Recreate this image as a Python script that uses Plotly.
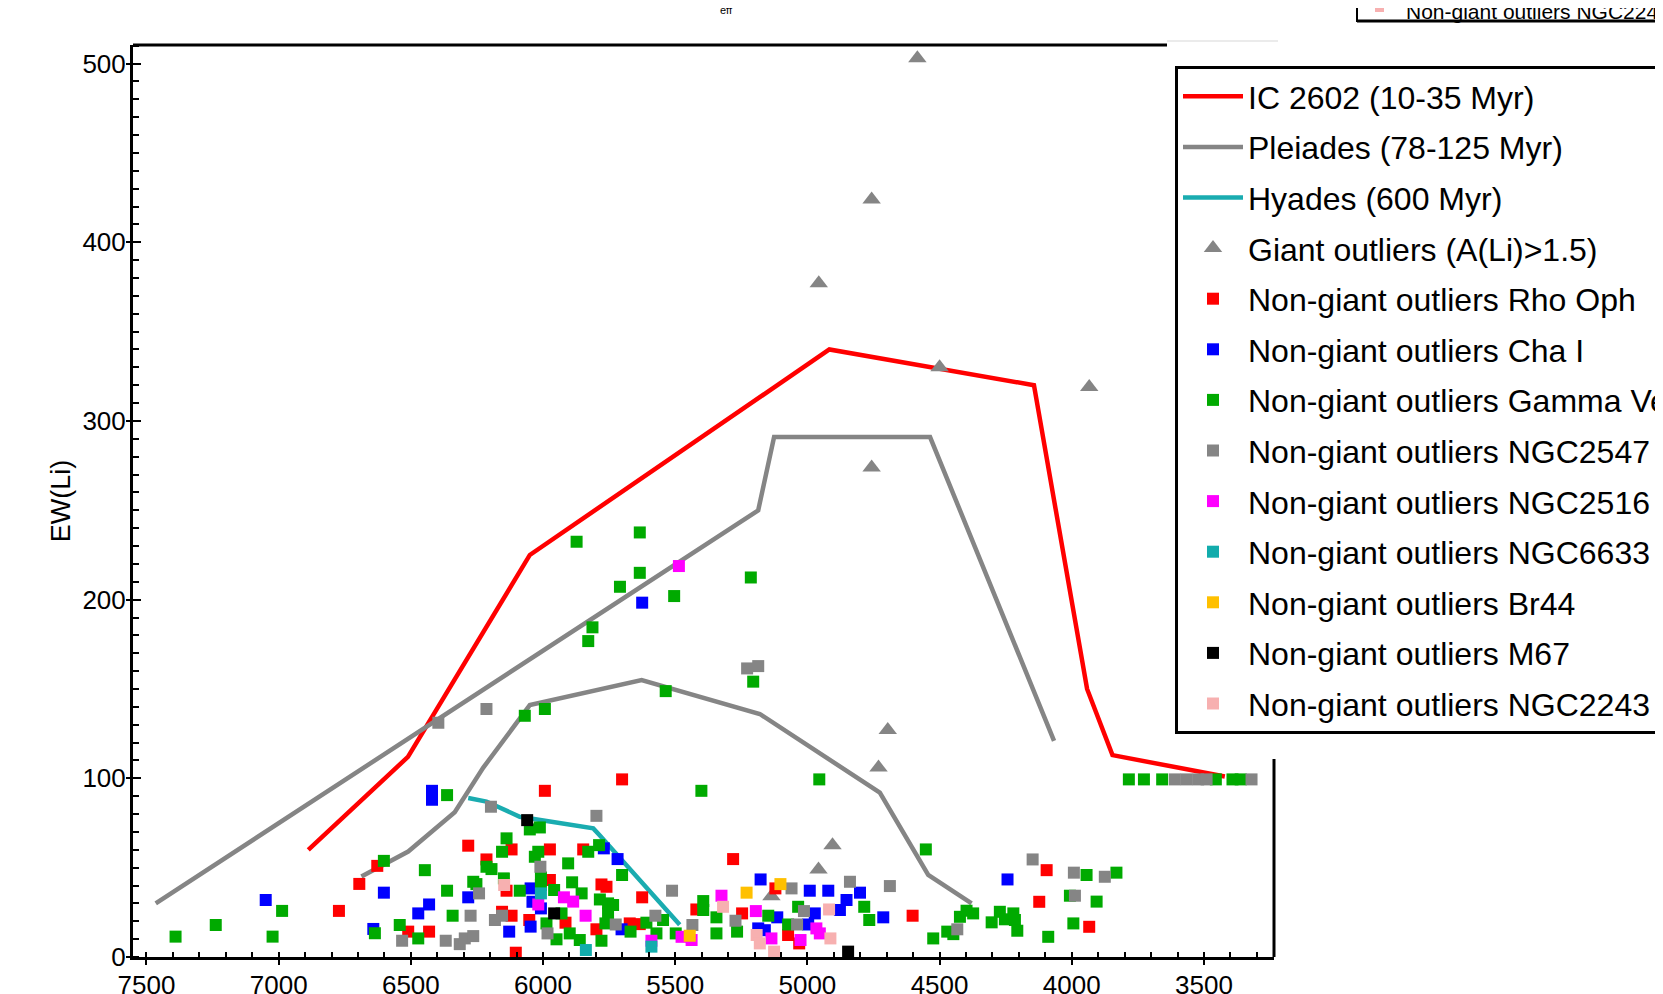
import plotly.graph_objects as go

# ---------------- data ----------------
ic2602_teff = [6888, 6511, 6050, 4917, 4143, 3942, 3846, 3421]
ic2602_ew = [60, 112, 225, 340, 320, 150, 113, 101]

pleiades_up_teff = [7465, 5186, 5126, 4536, 4067]
pleiades_up_ew = [30, 250, 291, 291, 121]
pleiades_lo_teff = [6687, 6510, 6334, 6226, 6050, 5627, 5180, 4726, 4543, 4379]
pleiades_lo_ew = [45, 59, 81, 106, 141, 155, 136, 92, 46, 30]

hyades_teff = [6283, 6214, 6088, 5810, 5785, 5483]
hyades_ew = [89, 87, 78.5, 72, 68, 18]

giant_teff = [4584, 4757, 4957, 4500, 3934, 4757, 4696, 4731, 4905, 4958, 5136]
giant_ew = [503, 424, 377, 330, 319, 274, 127, 106, 62.6, 49, 34]

rho_teff = [6772, 6695, 6627, 5993, 6283, 6119, 5974, 5848, 6214, 5974, 6138, 6155,
            6119, 6052, 5915, 6510, 6431, 6103, 5798, 5701, 5281, 5779, 5760, 5625,
            5672, 5634, 5420, 5247, 5121, 5073, 5031, 4602, 4095, 4123, 3934]
rho_ew = [25.8, 40.9, 51, 93, 62.3, 60.2, 60.2, 60.2, 54.6, 43.1, 37.1, 25.3,
          23.1, 20.7, 19.2, 14.2, 14.2, 2.4, 15.5, 99.4, 54.8, 40.6, 39.3, 33.4,
          18.8, 18.4, 26.6, 24.4, 38.4, 12.3, 7.6, 23.1, 48.6, 30.9, 16.9]

cha_teff = [7049, 6602, 6642, 6420, 6420, 6283, 6047, 6008, 6040, 6431, 6472, 6047,
            6128, 5625, 5770, 5718, 5703, 5177, 4991, 4921, 5114, 4972, 4852, 4997,
            5186, 5161, 4801, 4877, 4713, 4243]
cha_ew = [31.9, 36, 15.7, 93, 88, 33.4, 38.4, 27.2, 30.9, 29.4, 24.4, 17,
          14.2, 198.3, 60.8, 54.8, 15.5, 43.4, 37.1, 37.1, 22.2, 24.4, 31.9, 18.2,
          16, 15, 36, 26.3, 22.2, 43.4]

gam_teff = [7390, 7238, 6987, 7023, 6602, 6636,
            6363, 6050, 6012, 6138, 6155, 6031, 6018, 5829, 5905, 6214, 6195, 6447,
            6008, 6008, 6148, 6264, 6252, 5890, 6363, 6088, 5958, 5854, 6342, 5930,
            5987, 6542, 6472, 5949, 5899, 5861,
            5873, 5634, 5634, 5709, 5504, 5214, 5813, 5829, 5205, 5536, 6069, 5993,
            5401, 4955, 5788, 5701, 5785, 5754, 5735, 5754, 5764, 5669, 5609, 5546,
            5571, 5779, 5498, 5394, 5394, 5344, 5344, 5266, 5148, 5035, 5073,
            4552, 4785, 4766, 4524, 4471, 4448, 4423, 4398, 4373, 4303, 4272, 4253,
            4221, 4215, 4206, 4089, 3944, 4007, 3994, 3906, 3831,
            3784, 3727, 3658, 3455, 3392, 3361]
gam_ew = [11.4, 17.9, 25.8, 11.4, 53.8, 13.3,
          90.6, 71.4, 72.5, 66.4, 58.9, 56.1, 58.9, 58.9, 52.4, 50.5, 49.2, 48.6,
          44.5, 40.3, 44, 42.1, 40.8, 41.8, 37.1, 37.1, 37.5, 35.6, 23.1, 24.4,
          18.8, 17.9, 10.4, 9.9, 13.2, 9.5,
          232.4, 237.6, 215, 207.2, 202, 212.4, 184.5, 176.8, 154.1, 148.8, 135, 138.8,
          93, 99.4, 62.6, 45.9, 32.2, 30, 29.1, 24.4, 18.8, 14.2, 19.2, 20.7,
          13.2, 9.1, 13.2, 31.3, 26.3, 22.2, 13.2, 14.2, 23.1, 28.1, 18.2,
          60.2, 28.1, 20.7, 10.4, 14.2, 12.8, 22.5, 25.9, 24.4, 19.4, 25.3, 21.1,
          24.4, 20.7, 14.7, 11.3, 45.9, 34.3, 18.8, 31, 47.2,
          99.4, 99.4, 99.4, 99.4, 99.4, 99.4]

n2547_teff = [6214, 6396, 5228, 5186, 6197, 5798, 6010, 6242, 6274, 6182, 6155, 6533,
              6368, 6315, 6296, 6264, 5983, 5512, 5725, 5575, 5435, 5272, 5060, 5013,
              4839, 5039, 4688, 4433, 4148, 3992, 3988, 3875,
              3610, 3566, 3522, 3490, 3320]
n2547_ew = [138.8, 131.1, 161.5, 162.8, 84.1, 79, 50.5, 35.6, 23.1, 20.7, 23.1, 9.1,
            9.1, 7.2, 10.4, 11.7, 13.2, 37.1, 18.2, 23.1, 17.9, 20.3, 38.4, 25.7,
            42.1, 18.2, 39.7, 15.5, 54.6, 47.2, 34.3, 44.9,
            99.4, 99.4, 99.4, 99.4, 99.4]

n2516_teff = [5486, 5921, 5886, 6018, 5839, 5590, 5476, 5438, 5325, 5195, 4966, 4953,
              5136, 5026]
n2516_ew = [218.8, 33.4, 31, 29.4, 23.1, 9.1, 11.3, 9.5, 34.3, 25.7, 16, 13.2,
            10.4, 9.5]

n6633_teff = [6008, 5838, 5590]
n6633_ew = [35.6, 3.9, 5.8]

br44_teff = [5445, 5230, 5102]
br44_ew = [11.9, 36, 40.8]

m67_teff = [6060, 5958, 4846]
m67_ew = [76.6, 24.4, 3]

n2243_teff = [6147, 5319, 4918, 5192, 5180, 4913, 5126]
n2243_ew = [40.3, 28.1, 26.6, 12.3, 7.6, 10.4, 3]

x_range = [7551, 3235]
y_range = [0, 510.4]

FONT = "Liberation Sans, Arial, sans-serif"

fig = go.Figure()

def add_line(x, y, name, color, group):
    fig.add_trace(go.Scatter(x=x, y=y, mode="lines", name=name, legendgroup=group,
                             line=dict(color=color, width=4.5), hoverinfo="skip"))

add_line(ic2602_teff, ic2602_ew, "IC 2602 (10-35 Myr)", "#ff0000", "g1")
add_line(pleiades_up_teff + [None] + pleiades_lo_teff,
         pleiades_up_ew + [None] + pleiades_lo_ew,
         "Pleiades (78-125 Myr)", "#858585", "g2")
add_line(hyades_teff, hyades_ew, "Hyades (600 Myr)", "#1aacb0", "g3")

fig.add_trace(go.Scatter(x=giant_teff, y=giant_ew, mode="markers",
                         name="Giant outliers (A(Li)>1.5)", legendgroup="g4",
                         marker=dict(symbol="triangle-up", size=16, color="#858585")))

sq = [
    (rho_teff, rho_ew, "Non-giant outliers Rho Oph", "#ff0000"),
    (cha_teff, cha_ew, "Non-giant outliers Cha I", "#0000ff"),
    (gam_teff, gam_ew, "Non-giant outliers Gamma Vel", "#00aa00"),
    (n2547_teff, n2547_ew, "Non-giant outliers NGC2547", "#858585"),
    (n2516_teff, n2516_ew, "Non-giant outliers NGC2516", "#ff00ff"),
    (n6633_teff, n6633_ew, "Non-giant outliers NGC6633", "#12acac"),
    (br44_teff, br44_ew, "Non-giant outliers Br44", "#ffc000"),
    (m67_teff, m67_ew, "Non-giant outliers M67", "#000000"),
    (n2243_teff, n2243_ew, "Non-giant outliers NGC2243", "#f7b0b0"),
]
for i, (x, y, name, color) in enumerate(sq):
    fig.add_trace(go.Scatter(x=x, y=y, mode="markers", name=name,
                             legendgroup="s%d" % i,
                             marker=dict(symbol="square", size=12, color=color,
                                         line=dict(width=0))))

# dummy trace for overlay axes (inside halves of crossing major ticks)
fig.add_trace(go.Scatter(x=[None], y=[None], xaxis="x2", yaxis="y2",
                         showlegend=False, hoverinfo="skip"))

OFF = 8  # page body margin
W, H = 1655, 986
L, R, T, B = 125, 389, 37, 37
pw, ph = W - L - R, H - T - B

def px(xs):
    return (xs - OFF - L) / pw

def py(ys):
    return (H - B - (ys - OFF)) / ph

fig.update_layout(
    width=W, height=H,
    margin=dict(l=L, r=R, t=T, b=B, autoexpand=False),
    paper_bgcolor="white", plot_bgcolor="white",
    font=dict(family=FONT, color="black"),
    showlegend=True,
    legend=dict(x=px(1175), y=py(66), xanchor="left", yanchor="top",
                bgcolor="white", bordercolor="black", borderwidth=3,
                font=dict(size=32, family=FONT), tracegroupgap=6,
                itemsizing="trace", itemwidth=60),
    xaxis=dict(range=x_range, tick0=3500, dtick=500, ticks="outside", ticklen=5,
               tickwidth=2, tickcolor="black", showline=True, linecolor="black",
               linewidth=3, showgrid=False, zeroline=False,
               tickfont=dict(size=26), mirror=False, ticklabelstandoff=-2,
               minor=dict(ticks="inside", dtick=100, tick0=0, ticklen=5,
                          tickwidth=2, tickcolor="black")),
    yaxis=dict(range=y_range, tick0=0, dtick=100, ticks="outside", ticklen=4,
               tickwidth=2, tickcolor="black", showline=True, linecolor="black",
               linewidth=3, showgrid=False, zeroline=False,
               tickfont=dict(size=26), ticklabelstandoff=-5,
               title=dict(text="EW(Li)", font=dict(size=27), standoff=4),
               minor=dict(ticks="inside", dtick=10, tick0=0, ticklen=6,
                          tickwidth=2, tickcolor="black")),
    xaxis2=dict(overlaying="x", side="bottom", range=x_range, tick0=3500,
                dtick=500, ticks="inside", ticklen=5, tickwidth=2,
                tickcolor="black", showticklabels=False, showline=False,
                showgrid=False, zeroline=False),
    yaxis2=dict(overlaying="y", side="left", range=y_range, tick0=0, dtick=100,
                ticks="inside", ticklen=8, tickwidth=2, tickcolor="black",
                showticklabels=False, showline=False, showgrid=False,
                zeroline=False),
)

shapes = [
    # partial top frame line
    dict(type="line", xref="paper", yref="paper", x0=0, x1=px(1167), y0=1, y1=1,
         line=dict(color="black", width=3)),
    dict(type="line", xref="paper", yref="paper", x0=px(1167), x1=px(1278),
         y0=py(41), y1=py(41), line=dict(color="#e4e4e4", width=1.5)),
    # partial right frame line
    dict(type="line", xref="paper", yref="paper", x0=1, x1=1, y0=0, y1=py(759),
         line=dict(color="black", width=3)),
    # remnants of upper panel legend box
    dict(type="line", xref="paper", yref="paper", x0=px(1357), x1=px(1357),
         y0=py(22), y1=py(-5), line=dict(color="black", width=2)),
    dict(type="line", xref="paper", yref="paper", x0=px(1357), x1=px(1700),
         y0=py(21), y1=py(21), line=dict(color="black", width=3)),
    dict(type="rect", xref="paper", yref="paper", x0=px(1375), x1=px(1384),
         y0=py(12), y1=py(4), line=dict(width=0), fillcolor="#f7b0b0"),
]
fig.update_layout(shapes=shapes)

fig.add_annotation(text="Non-giant outliers NGC2243", xref="paper", yref="paper",
                   x=px(1404), y=py(11), xanchor="left", yanchor="middle",
                   showarrow=False, font=dict(size=21, family=FONT, color="black"))
fig.add_annotation(text="eff", xref="paper", yref="paper",
                   x=px(727), y=py(10), xanchor="center", yanchor="middle",
                   showarrow=False, font=dict(size=11, family=FONT, color="black"))

fig.write_html("out.html")
